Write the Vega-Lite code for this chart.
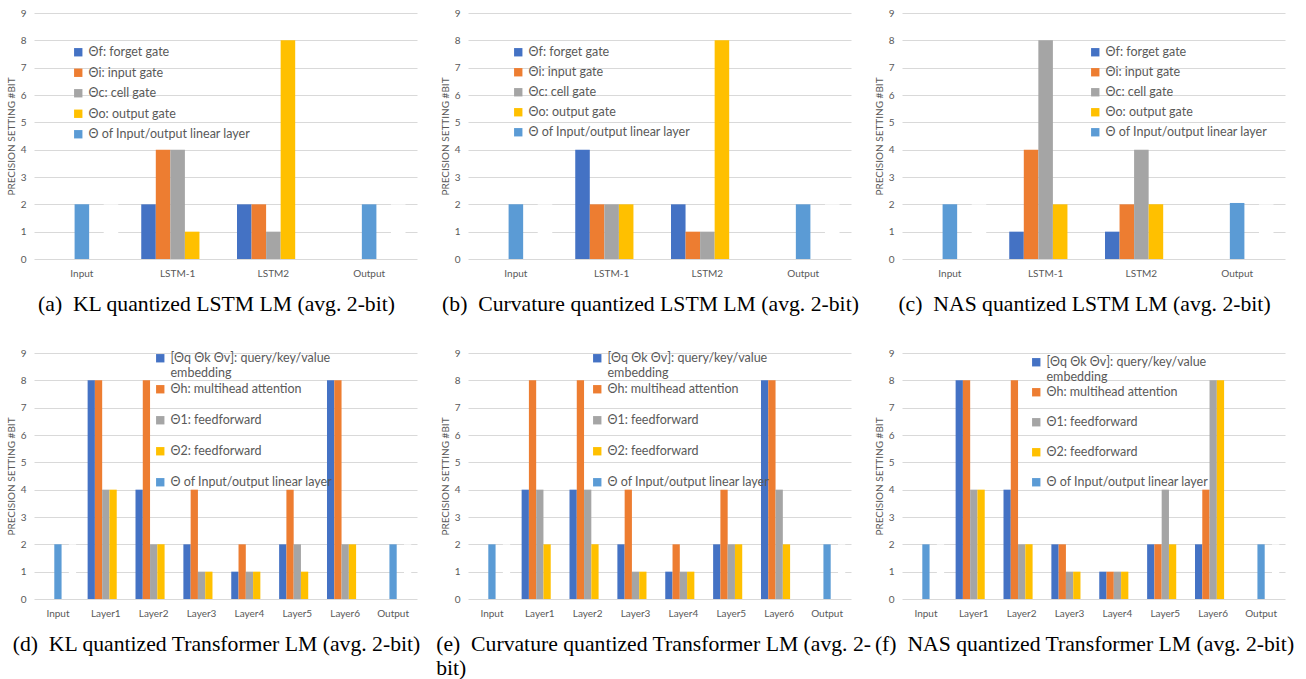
{
  "$schema": "https://vega.github.io/schema/vega-lite/v6.json",
  "padding": {"top": 8, "left": 6, "right": 5, "bottom": 5},
  "background": "white",
  "config": {
    "font": "Lato",
    "view": {"stroke": null},
    "axis": {"labelColor": "#595959", "labelFontSize": 10, "titleColor": "#595959", "titleFontSize": 10, "titleFontWeight": "normal", "ticks": false, "gridColor": "#d9d9d9", "domainColor": "#d9d9d9"},
    "axisY": {"domain": false, "labelPadding": 8, "titlePadding": 4},
    "axisX": {"grid": false, "domain": false, "labelPadding": 9, "labelAngle": 0},
    "legend": {"orient": "none", "labelFont": "Lato", "labelFontSize": 12.5, "labelColor": "#595959", "symbolType": "square", "symbolSize": 70, "symbolStrokeWidth": 0, "labelLimit": 400},
    "title": {"font": "Liberation Serif", "fontSize": 21.7, "fontWeight": "normal", "color": "#000000", "orient": "bottom", "offset": 16, "dx": -9}
  },
  "datasets": {
    "d": [
      {"p": "a", "c": "Input", "s": 3, "k": "io", "v": 2},
      {"p": "a", "c": "Input", "s": 5, "k": "blank", "v": 2},
      {"p": "a", "c": "LSTM-1", "s": 1, "k": "f", "v": 2},
      {"p": "a", "c": "LSTM-1", "s": 2, "k": "i", "v": 4},
      {"p": "a", "c": "LSTM-1", "s": 3, "k": "c", "v": 4},
      {"p": "a", "c": "LSTM-1", "s": 4, "k": "o", "v": 1},
      {"p": "a", "c": "LSTM2", "s": 1, "k": "f", "v": 2},
      {"p": "a", "c": "LSTM2", "s": 2, "k": "i", "v": 2},
      {"p": "a", "c": "LSTM2", "s": 3, "k": "c", "v": 1},
      {"p": "a", "c": "LSTM2", "s": 4, "k": "o", "v": 8},
      {"p": "a", "c": "Output", "s": 3, "k": "io", "v": 2},
      {"p": "a", "c": "Output", "s": 5, "k": "blank", "v": 2},

      {"p": "b", "c": "Input", "s": 3, "k": "io", "v": 2},
      {"p": "b", "c": "Input", "s": 5, "k": "blank", "v": 2},
      {"p": "b", "c": "LSTM-1", "s": 1, "k": "f", "v": 4},
      {"p": "b", "c": "LSTM-1", "s": 2, "k": "i", "v": 2},
      {"p": "b", "c": "LSTM-1", "s": 3, "k": "c", "v": 2},
      {"p": "b", "c": "LSTM-1", "s": 4, "k": "o", "v": 2},
      {"p": "b", "c": "LSTM2", "s": 1, "k": "f", "v": 2},
      {"p": "b", "c": "LSTM2", "s": 2, "k": "i", "v": 1},
      {"p": "b", "c": "LSTM2", "s": 3, "k": "c", "v": 1},
      {"p": "b", "c": "LSTM2", "s": 4, "k": "o", "v": 8},
      {"p": "b", "c": "Output", "s": 3, "k": "io", "v": 2},
      {"p": "b", "c": "Output", "s": 5, "k": "blank", "v": 2},

      {"p": "c", "c": "Input", "s": 3, "k": "io", "v": 2},
      {"p": "c", "c": "Input", "s": 5, "k": "blank", "v": 2},
      {"p": "c", "c": "LSTM-1", "s": 1, "k": "f", "v": 1},
      {"p": "c", "c": "LSTM-1", "s": 2, "k": "i", "v": 4},
      {"p": "c", "c": "LSTM-1", "s": 3, "k": "c", "v": 8},
      {"p": "c", "c": "LSTM-1", "s": 4, "k": "o", "v": 2},
      {"p": "c", "c": "LSTM2", "s": 1, "k": "f", "v": 1},
      {"p": "c", "c": "LSTM2", "s": 2, "k": "i", "v": 2},
      {"p": "c", "c": "LSTM2", "s": 3, "k": "c", "v": 4},
      {"p": "c", "c": "LSTM2", "s": 4, "k": "o", "v": 2},
      {"p": "c", "c": "Output", "s": 3, "k": "io", "v": 2.05},
      {"p": "c", "c": "Output", "s": 5, "k": "blank", "v": 2},

      {"p": "d", "c": "Input", "s": 3, "k": "io", "v": 2},
      {"p": "d", "c": "Input", "s": 5, "k": "blank", "v": 2},
      {"p": "d", "c": "Layer1", "s": 1, "k": "q", "v": 8},
      {"p": "d", "c": "Layer1", "s": 2, "k": "h", "v": 8},
      {"p": "d", "c": "Layer1", "s": 3, "k": "t1", "v": 4},
      {"p": "d", "c": "Layer1", "s": 4, "k": "t2", "v": 4},
      {"p": "d", "c": "Layer2", "s": 1, "k": "q", "v": 4},
      {"p": "d", "c": "Layer2", "s": 2, "k": "h", "v": 8},
      {"p": "d", "c": "Layer2", "s": 3, "k": "t1", "v": 2},
      {"p": "d", "c": "Layer2", "s": 4, "k": "t2", "v": 2},
      {"p": "d", "c": "Layer3", "s": 1, "k": "q", "v": 2},
      {"p": "d", "c": "Layer3", "s": 2, "k": "h", "v": 4},
      {"p": "d", "c": "Layer3", "s": 3, "k": "t1", "v": 1},
      {"p": "d", "c": "Layer3", "s": 4, "k": "t2", "v": 1},
      {"p": "d", "c": "Layer4", "s": 1, "k": "q", "v": 1},
      {"p": "d", "c": "Layer4", "s": 2, "k": "h", "v": 2},
      {"p": "d", "c": "Layer4", "s": 3, "k": "t1", "v": 1},
      {"p": "d", "c": "Layer4", "s": 4, "k": "t2", "v": 1},
      {"p": "d", "c": "Layer5", "s": 1, "k": "q", "v": 2},
      {"p": "d", "c": "Layer5", "s": 2, "k": "h", "v": 4},
      {"p": "d", "c": "Layer5", "s": 3, "k": "t1", "v": 2},
      {"p": "d", "c": "Layer5", "s": 4, "k": "t2", "v": 1},
      {"p": "d", "c": "Layer6", "s": 1, "k": "q", "v": 8},
      {"p": "d", "c": "Layer6", "s": 2, "k": "h", "v": 8},
      {"p": "d", "c": "Layer6", "s": 3, "k": "t1", "v": 2},
      {"p": "d", "c": "Layer6", "s": 4, "k": "t2", "v": 2},
      {"p": "d", "c": "Output", "s": 3, "k": "io", "v": 2},
      {"p": "d", "c": "Output", "s": 5, "k": "blank", "v": 2},

      {"p": "e", "c": "Input", "s": 3, "k": "io", "v": 2},
      {"p": "e", "c": "Input", "s": 5, "k": "blank", "v": 2},
      {"p": "e", "c": "Layer1", "s": 1, "k": "q", "v": 4},
      {"p": "e", "c": "Layer1", "s": 2, "k": "h", "v": 8},
      {"p": "e", "c": "Layer1", "s": 3, "k": "t1", "v": 4},
      {"p": "e", "c": "Layer1", "s": 4, "k": "t2", "v": 2},
      {"p": "e", "c": "Layer2", "s": 1, "k": "q", "v": 4},
      {"p": "e", "c": "Layer2", "s": 2, "k": "h", "v": 8},
      {"p": "e", "c": "Layer2", "s": 3, "k": "t1", "v": 4},
      {"p": "e", "c": "Layer2", "s": 4, "k": "t2", "v": 2},
      {"p": "e", "c": "Layer3", "s": 1, "k": "q", "v": 2},
      {"p": "e", "c": "Layer3", "s": 2, "k": "h", "v": 4},
      {"p": "e", "c": "Layer3", "s": 3, "k": "t1", "v": 1},
      {"p": "e", "c": "Layer3", "s": 4, "k": "t2", "v": 1},
      {"p": "e", "c": "Layer4", "s": 1, "k": "q", "v": 1},
      {"p": "e", "c": "Layer4", "s": 2, "k": "h", "v": 2},
      {"p": "e", "c": "Layer4", "s": 3, "k": "t1", "v": 1},
      {"p": "e", "c": "Layer4", "s": 4, "k": "t2", "v": 1},
      {"p": "e", "c": "Layer5", "s": 1, "k": "q", "v": 2},
      {"p": "e", "c": "Layer5", "s": 2, "k": "h", "v": 4},
      {"p": "e", "c": "Layer5", "s": 3, "k": "t1", "v": 2},
      {"p": "e", "c": "Layer5", "s": 4, "k": "t2", "v": 2},
      {"p": "e", "c": "Layer6", "s": 1, "k": "q", "v": 8},
      {"p": "e", "c": "Layer6", "s": 2, "k": "h", "v": 8},
      {"p": "e", "c": "Layer6", "s": 3, "k": "t1", "v": 4},
      {"p": "e", "c": "Layer6", "s": 4, "k": "t2", "v": 2},
      {"p": "e", "c": "Output", "s": 3, "k": "io", "v": 2},
      {"p": "e", "c": "Output", "s": 5, "k": "blank", "v": 2},

      {"p": "f", "c": "Input", "s": 3, "k": "io", "v": 2},
      {"p": "f", "c": "Input", "s": 5, "k": "blank", "v": 2},
      {"p": "f", "c": "Layer1", "s": 1, "k": "q", "v": 8},
      {"p": "f", "c": "Layer1", "s": 2, "k": "h", "v": 8},
      {"p": "f", "c": "Layer1", "s": 3, "k": "t1", "v": 4},
      {"p": "f", "c": "Layer1", "s": 4, "k": "t2", "v": 4},
      {"p": "f", "c": "Layer2", "s": 1, "k": "q", "v": 4},
      {"p": "f", "c": "Layer2", "s": 2, "k": "h", "v": 8},
      {"p": "f", "c": "Layer2", "s": 3, "k": "t1", "v": 2},
      {"p": "f", "c": "Layer2", "s": 4, "k": "t2", "v": 2},
      {"p": "f", "c": "Layer3", "s": 1, "k": "q", "v": 2},
      {"p": "f", "c": "Layer3", "s": 2, "k": "h", "v": 2},
      {"p": "f", "c": "Layer3", "s": 3, "k": "t1", "v": 1},
      {"p": "f", "c": "Layer3", "s": 4, "k": "t2", "v": 1},
      {"p": "f", "c": "Layer4", "s": 1, "k": "q", "v": 1},
      {"p": "f", "c": "Layer4", "s": 2, "k": "h", "v": 1},
      {"p": "f", "c": "Layer4", "s": 3, "k": "t1", "v": 1},
      {"p": "f", "c": "Layer4", "s": 4, "k": "t2", "v": 1},
      {"p": "f", "c": "Layer5", "s": 1, "k": "q", "v": 2},
      {"p": "f", "c": "Layer5", "s": 2, "k": "h", "v": 2},
      {"p": "f", "c": "Layer5", "s": 3, "k": "t1", "v": 4},
      {"p": "f", "c": "Layer5", "s": 4, "k": "t2", "v": 2},
      {"p": "f", "c": "Layer6", "s": 1, "k": "q", "v": 2},
      {"p": "f", "c": "Layer6", "s": 2, "k": "h", "v": 4},
      {"p": "f", "c": "Layer6", "s": 3, "k": "t1", "v": 8},
      {"p": "f", "c": "Layer6", "s": 4, "k": "t2", "v": 8},
      {"p": "f", "c": "Output", "s": 3, "k": "io", "v": 2},
      {"p": "f", "c": "Output", "s": 5, "k": "blank", "v": 2}
    ]
  },
  "spacing": 32,
  "resolve": {"scale": {"color": "independent", "xOffset": "independent"}, "legend": {"color": "independent"}},
  "vconcat": [
    {
      "spacing": 51,
      "bounds": "flush",
      "resolve": {"scale": {"color": "independent", "xOffset": "independent"}, "legend": {"color": "independent"}},
      "hconcat": [
        {
          "width": 383, "height": 246,
          "title": {"text": "(a)\u00a0\u00a0KL quantized LSTM LM (avg. 2-bit)"},
          "data": {"name": "d"},
          "transform": [{"filter": "datum.p == 'a'"}],
          "mark": {"type": "bar"},
          "encoding": {
            "x": {"field": "c", "type": "nominal", "sort": ["Input", "LSTM-1", "LSTM2", "Output"], "scale": {"paddingInner": 0, "paddingOuter": 0}, "title": null},
            "xOffset": {"field": "s", "type": "nominal", "scale": {"paddingInner": 0, "paddingOuter": 0.79}},
            "y": {"field": "v", "type": "quantitative", "scale": {"domain": [0, 9]}, "axis": {"values": [0, 1, 2, 3, 4, 5, 6, 7, 8, 9]}, "title": "PRECISION SETTING #BIT"},
            "color": {"field": "k", "type": "nominal",
              "scale": {"domain": ["f", "i", "c", "o", "io", "blank"], "range": ["#4472C4", "#ED7D31", "#A5A5A5", "#FFC000", "#5B9BD5", "#ffffff"]},
              "legend": {"title": null, "values": ["f", "i", "c", "o", "io"], "legendX": 38, "legendY": 33, "rowPadding": 7.5,
                "labelExpr": "datum.label=='f'?'Θf: forget gate':datum.label=='i'?'Θi: input gate':datum.label=='c'?'Θc: cell gate':datum.label=='o'?'Θo: output gate':'Θ of Input/output linear layer'"}}
          }
        },
        {
          "width": 383, "height": 246,
          "title": {"text": "(b)\u00a0\u00a0Curvature quantized LSTM LM (avg. 2-bit)"},
          "data": {"name": "d"},
          "transform": [{"filter": "datum.p == 'b'"}],
          "mark": {"type": "bar"},
          "encoding": {
            "x": {"field": "c", "type": "nominal", "sort": ["Input", "LSTM-1", "LSTM2", "Output"], "scale": {"paddingInner": 0, "paddingOuter": 0}, "title": null},
            "xOffset": {"field": "s", "type": "nominal", "scale": {"paddingInner": 0, "paddingOuter": 0.79}},
            "y": {"field": "v", "type": "quantitative", "scale": {"domain": [0, 9]}, "axis": {"values": [0, 1, 2, 3, 4, 5, 6, 7, 8, 9]}, "title": "PRECISION SETTING #BIT"},
            "color": {"field": "k", "type": "nominal",
              "scale": {"domain": ["f", "i", "c", "o", "io", "blank"], "range": ["#4472C4", "#ED7D31", "#A5A5A5", "#FFC000", "#5B9BD5", "#ffffff"]},
              "legend": {"title": null, "values": ["f", "i", "c", "o", "io"], "legendX": 44, "legendY": 33, "rowPadding": 7,
                "labelExpr": "datum.label=='f'?'Θf: forget gate':datum.label=='i'?'Θi: input gate':datum.label=='c'?'Θc: cell gate':datum.label=='o'?'Θo: output gate':'Θ of Input/output linear layer'"}}
          }
        },
        {
          "width": 383, "height": 246,
          "title": {"text": "(c)\u00a0\u00a0NAS quantized LSTM LM (avg. 2-bit)"},
          "data": {"name": "d"},
          "transform": [{"filter": "datum.p == 'c'"}],
          "mark": {"type": "bar"},
          "encoding": {
            "x": {"field": "c", "type": "nominal", "sort": ["Input", "LSTM-1", "LSTM2", "Output"], "scale": {"paddingInner": 0, "paddingOuter": 0}, "title": null},
            "xOffset": {"field": "s", "type": "nominal", "scale": {"paddingInner": 0, "paddingOuter": 0.79}},
            "y": {"field": "v", "type": "quantitative", "scale": {"domain": [0, 9]}, "axis": {"values": [0, 1, 2, 3, 4, 5, 6, 7, 8, 9]}, "title": "PRECISION SETTING #BIT"},
            "color": {"field": "k", "type": "nominal",
              "scale": {"domain": ["f", "i", "c", "o", "io", "blank"], "range": ["#4472C4", "#ED7D31", "#A5A5A5", "#FFC000", "#5B9BD5", "#ffffff"]},
              "legend": {"title": null, "values": ["f", "i", "c", "o", "io"], "legendX": 187, "legendY": 33, "rowPadding": 7,
                "labelExpr": "datum.label=='f'?'Θf: forget gate':datum.label=='i'?'Θi: input gate':datum.label=='c'?'Θc: cell gate':datum.label=='o'?'Θo: output gate':'Θ of Input/output linear layer'"}}
          }
        }
      ]
    },
    {
      "spacing": 51,
      "bounds": "flush",
      "resolve": {"scale": {"color": "independent", "xOffset": "independent"}, "legend": {"color": "independent"}},
      "hconcat": [
        {
          "width": 383, "height": 246,
          "title": {"text": "(d)\u00a0\u00a0KL quantized Transformer LM (avg. 2-bit)"},
          "data": {"name": "d"},
          "transform": [{"filter": "datum.p == 'd'"}],
          "mark": {"type": "bar"},
          "encoding": {
            "x": {"field": "c", "type": "nominal", "sort": ["Input", "Layer1", "Layer2", "Layer3", "Layer4", "Layer5", "Layer6", "Output"], "scale": {"paddingInner": 0, "paddingOuter": 0}, "title": null},
            "xOffset": {"field": "s", "type": "nominal", "scale": {"paddingInner": 0, "paddingOuter": 0.79}},
            "y": {"field": "v", "type": "quantitative", "scale": {"domain": [0, 9]}, "axis": {"values": [0, 1, 2, 3, 4, 5, 6, 7, 8, 9]}, "title": "PRECISION SETTING #BIT"},
            "color": {"field": "k", "type": "nominal",
              "scale": {"domain": ["q", "h", "t1", "t2", "io", "blank"], "range": ["#4472C4", "#ED7D31", "#A5A5A5", "#FFC000", "#5B9BD5", "#ffffff"]},
              "legend": {"title": null, "values": ["q", "h", "t1", "t2", "io"], "legendX": 120, "legendY": -1, "rowPadding": 3, "gridAlign": "all",
                "labelExpr": "datum.label=='q'?['[Θq Θk Θv]: query/key/value','embedding']:datum.label=='h'?'Θh: multihead attention':datum.label=='t1'?'Θ1: feedforward':datum.label=='t2'?'Θ2: feedforward':'Θ of Input/output linear layer'"}}
          }
        },
        {
          "width": 383, "height": 246,
          "title": {"text": ["(e)\u00a0\u00a0Curvature quantized Transformer LM (avg. 2-", "bit)"], "anchor": "start", "dx": -4},
          "data": {"name": "d"},
          "transform": [{"filter": "datum.p == 'e'"}],
          "mark": {"type": "bar"},
          "encoding": {
            "x": {"field": "c", "type": "nominal", "sort": ["Input", "Layer1", "Layer2", "Layer3", "Layer4", "Layer5", "Layer6", "Output"], "scale": {"paddingInner": 0, "paddingOuter": 0}, "title": null},
            "xOffset": {"field": "s", "type": "nominal", "scale": {"paddingInner": 0, "paddingOuter": 0.79}},
            "y": {"field": "v", "type": "quantitative", "scale": {"domain": [0, 9]}, "axis": {"values": [0, 1, 2, 3, 4, 5, 6, 7, 8, 9]}, "title": "PRECISION SETTING #BIT"},
            "color": {"field": "k", "type": "nominal",
              "scale": {"domain": ["q", "h", "t1", "t2", "io", "blank"], "range": ["#4472C4", "#ED7D31", "#A5A5A5", "#FFC000", "#5B9BD5", "#ffffff"]},
              "legend": {"title": null, "values": ["q", "h", "t1", "t2", "io"], "legendX": 123, "legendY": -1, "rowPadding": 3, "gridAlign": "all",
                "labelExpr": "datum.label=='q'?['[Θq Θk Θv]: query/key/value','embedding']:datum.label=='h'?'Θh: multihead attention':datum.label=='t1'?'Θ1: feedforward':datum.label=='t2'?'Θ2: feedforward':'Θ of Input/output linear layer'"}}
          }
        },
        {
          "width": 383, "height": 246,
          "title": {"text": "(f)\u00a0\u00a0NAS quantized Transformer LM (avg. 2-bit)"},
          "data": {"name": "d"},
          "transform": [{"filter": "datum.p == 'f'"}],
          "mark": {"type": "bar"},
          "encoding": {
            "x": {"field": "c", "type": "nominal", "sort": ["Input", "Layer1", "Layer2", "Layer3", "Layer4", "Layer5", "Layer6", "Output"], "scale": {"paddingInner": 0, "paddingOuter": 0}, "title": null},
            "xOffset": {"field": "s", "type": "nominal", "scale": {"paddingInner": 0, "paddingOuter": 0.79}},
            "y": {"field": "v", "type": "quantitative", "scale": {"domain": [0, 9]}, "axis": {"values": [0, 1, 2, 3, 4, 5, 6, 7, 8, 9]}, "title": "PRECISION SETTING #BIT"},
            "color": {"field": "k", "type": "nominal",
              "scale": {"domain": ["q", "h", "t1", "t2", "io", "blank"], "range": ["#4472C4", "#ED7D31", "#A5A5A5", "#FFC000", "#5B9BD5", "#ffffff"]},
              "legend": {"title": null, "values": ["q", "h", "t1", "t2", "io"], "legendX": 128, "legendY": 3, "rowPadding": 2, "gridAlign": "all",
                "labelExpr": "datum.label=='q'?['[Θq Θk Θv]: query/key/value','embedding']:datum.label=='h'?'Θh: multihead attention':datum.label=='t1'?'Θ1: feedforward':datum.label=='t2'?'Θ2: feedforward':'Θ of Input/output linear layer'"}}
          }
        }
      ]
    }
  ]
}
